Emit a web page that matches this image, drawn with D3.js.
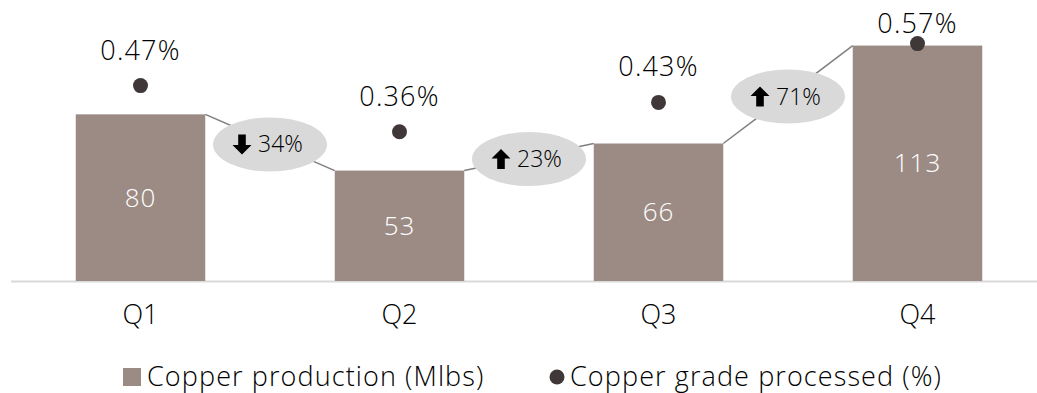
<!DOCTYPE html>
<html>
<head>
<meta charset="utf-8">
<script src="https://cdn.jsdelivr.net/npm/d3@7"></script>
<style>
  body { margin: 0; background: #fff; }
  svg text { font-family: "Open Sans", Lato, sans-serif; font-weight: 300; }
</style>
</head>
<body>
<div id="chart"></div>
<script>
// data
var quarters = ["Q1", "Q2", "Q3", "Q4"];
var production = [80, 53, 66, 113];          // Mlbs
var grade = [0.47, 0.36, 0.43, 0.57];         // %
var changes = [-34, 23, 71];                  // % change between quarters
var legendLabels = ["Copper production (Mlbs)", "Copper grade processed (%)"];

var W = 1037, H = 393;
var barColor = "#9c8b84", dotColor = "#403838";

var svg = d3.select("#chart").append("svg")
    .attr("width", W)
    .attr("height", H);

var x = d3.scaleBand()
    .domain(quarters)
    .range([11, 1047])
    .paddingInner(0.5)
    .paddingOuter(0.25);

var y = d3.scaleLinear().domain([0, 120]).range([281, 31]);
var y2 = d3.scaleLinear().domain([0, 0.6]).range([283, 31]);

// baseline
svg.append("line")
    .attr("x1", 11).attr("x2", W)
    .attr("y1", y(0) + 0.5).attr("y2", y(0) + 0.5)
    .attr("stroke", "#d9d9d9")
    .attr("stroke-width", 2);

// connectors between bar tops
var links = changes.map(function(c, i) {
    return {
        x1: x(quarters[i]) + x.bandwidth(), y1: y(production[i]),
        x2: x(quarters[i + 1]), y2: y(production[i + 1]),
        change: c
    };
});

svg.selectAll("line.link").data(links).enter().append("line")
    .attr("class", "link")
    .attr("x1", function(d) { return d.x1; })
    .attr("y1", function(d) { return d.y1; })
    .attr("x2", function(d) { return d.x2; })
    .attr("y2", function(d) { return d.y2; })
    .attr("stroke", "#7f7f7f")
    .attr("stroke-width", 1.5);

// bars
svg.selectAll("rect.bar").data(production).enter().append("rect")
    .attr("class", "bar")
    .attr("x", function(d, i) { return x(quarters[i]); })
    .attr("y", function(d) { return y(d); })
    .attr("width", x.bandwidth())
    .attr("height", function(d) { return y(0) - y(d); })
    .attr("fill", barColor);

// bar values
svg.selectAll("text.val").data(production).enter().append("text")
    .attr("class", "val")
    .attr("x", function(d, i) { return x(quarters[i]) + x.bandwidth() / 2; })
    .attr("y", function(d) { return (y(d) + y(0)) / 2 + 9; })
    .attr("text-anchor", "middle")
    .attr("font-size", 26)
    .attr("letter-spacing", 1)
    .attr("fill", "#fff")
    .text(function(d) { return d; });

// change bubbles
var bub = svg.selectAll("g.bub").data(links).enter().append("g")
    .attr("class", "bub")
    .attr("transform", function(d) {
        return "translate(" + ((d.x1 + d.x2) / 2) + "," + ((d.y1 + d.y2) / 2 + 2) + ")";
    });

bub.append("ellipse")
    .attr("rx", 57).attr("ry", 27)
    .attr("fill", "#d9d9d9");

// arrow glyph
bub.append("path")
    .attr("transform", function(d) {
        return "translate(-28,0)" + (d.change < 0 ? " rotate(180)" : "");
    })
    .attr("d", "M0,-10 L9.5,-0.5 L3.8,-0.5 L3.8,10 L-3.8,10 L-3.8,-0.5 L-9.5,-0.5 Z")
    .attr("fill", "#000");

bub.append("text")
    .attr("x", -12)
    .attr("y", 8)
    .attr("font-size", 23)
    .attr("fill", "#000")
    .text(function(d) { return Math.abs(d.change) + "%"; });

// grade dots
svg.selectAll("circle.dot").data(grade).enter().append("circle")
    .attr("class", "dot")
    .attr("cx", function(d, i) { return x(quarters[i]) + x.bandwidth() / 2; })
    .attr("cy", function(d) { return y2(d); })
    .attr("r", 7.5)
    .attr("fill", dotColor);

svg.selectAll("text.pct").data(grade).enter().append("text")
    .attr("class", "pct")
    .attr("x", function(d, i) { return x(quarters[i]) + x.bandwidth() / 2; })
    .attr("y", function(d) { return Math.max(y2(d) - 26, 33); })
    .attr("text-anchor", "middle")
    .attr("font-size", 27)
    .attr("letter-spacing", 1.2)
    .attr("fill", "#000")
    .text(function(d) { return d.toFixed(2) + "%"; });

// category axis
var xAxis = svg.append("g")
    .attr("transform", "translate(0," + y(0) + ")")
    .call(d3.axisBottom(x).tickSize(0).tickPadding(24));
xAxis.select(".domain").remove();
xAxis.selectAll("text")
    .attr("font-size", 27)
    .attr("fill", "#000")
    .style("font-family", "'Open Sans', Lato, sans-serif")
    .style("font-weight", 300);

// legend
var leg = svg.append("g");
leg.append("rect")
    .attr("x", 123).attr("y", 368)
    .attr("width", 18).attr("height", 18)
    .attr("fill", barColor);
leg.append("text")
    .attr("x", 147).attr("y", 386)
    .attr("font-size", 27)
    .attr("letter-spacing", 1.1)
    .attr("fill", "#000")
    .text(legendLabels[0]);
leg.append("circle")
    .attr("cx", 557).attr("cy", 377)
    .attr("r", 7.5)
    .attr("fill", dotColor);
leg.append("text")
    .attr("x", 570).attr("y", 386)
    .attr("font-size", 27)
    .attr("letter-spacing", 1.1)
    .attr("fill", "#000")
    .text(legendLabels[1]);
</script>
</body>
</html>
